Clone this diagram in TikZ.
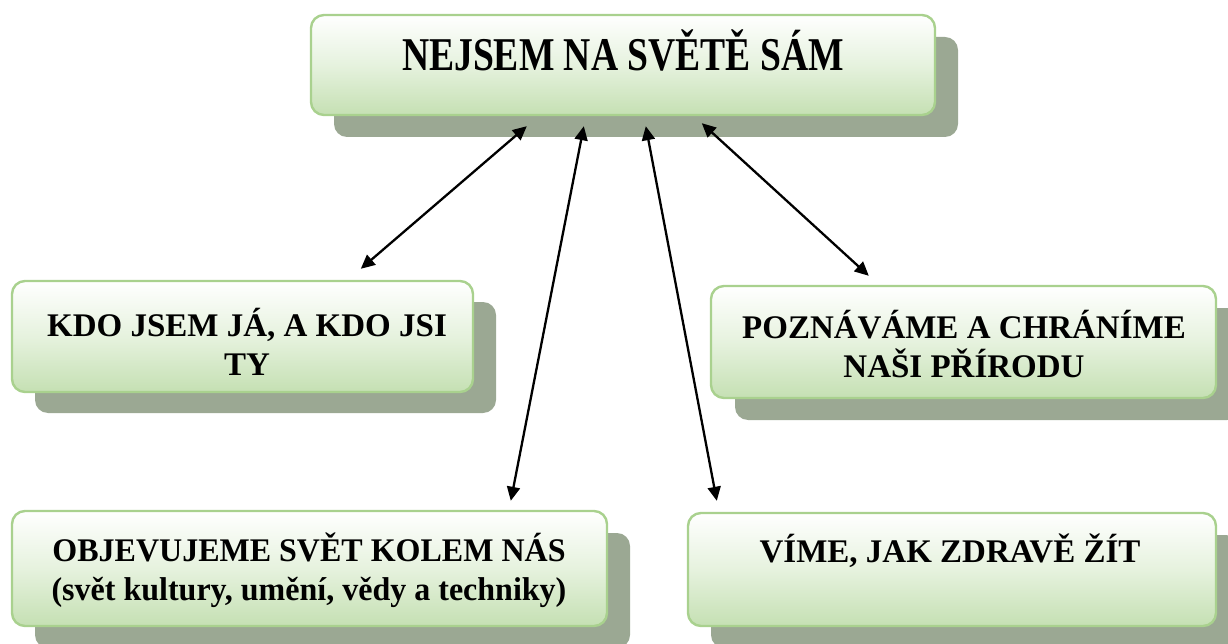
\documentclass[tikz,border=0pt]{standalone}
\usepackage{fontspec}
\setmainfont{Liberation Serif}
\usetikzlibrary{arrows.meta,calc}
\definecolor{boxedge}{HTML}{A9D18E}
\definecolor{boxbot}{HTML}{C5E0B3}
\definecolor{boxmid}{HTML}{E6F2DE}
\definecolor{shadowc}{HTML}{9BA893}
\tikzset{
  box/.style={draw=boxedge, line width=2.4pt, rounded corners=13pt,
    top color=white, bottom color=boxbot, middle color=boxmid, inner sep=0pt},
  shadowbox/.style={fill=shadowc, rounded corners=13pt, inner sep=0pt},
  lbl/.style={font=\bfseries\fontsize{33}{39}\selectfont, align=center, inner sep=0pt},
  toplbl/.style={font=\bfseries\fontsize{47}{50}\selectfont, align=center, inner sep=0pt},
  link/.style={{Triangle[length=14pt,width=13pt]}-{Triangle[length=14pt,width=13pt]}, line width=2.3pt, black},
}
\begin{document}
\begin{tikzpicture}[x=1pt,y=-1pt]
\useasboundingbox (0,0) rectangle (1228,644);
\clip (0,0) rectangle (1228,644);
% shadows
\node[shadowbox, minimum width=624pt, minimum height=100pt] (topS) at (646,87) {};
\node[shadowbox, minimum width=461pt, minimum height=111pt] (kdoS) at (265.5,357.5) {};
\node[shadowbox, minimum width=505pt, minimum height=112pt] (pozS) at (987.5,364) {};
\node[shadowbox, minimum width=595pt, minimum height=115pt] (objS) at (332.5,590.5) {};
\node[shadowbox, minimum width=528pt, minimum height=113pt] (vimeS) at (975,591.5) {};
% boxes
\node[box, minimum width=624pt, minimum height=100pt] (top) at (623,65) {};
\node[box, minimum width=461pt, minimum height=111pt] (kdo) at (242.5,336.5) {};
\node[box, minimum width=505pt, minimum height=112pt] (poz) at (963.5,342) {};
\node[box, minimum width=595pt, minimum height=115pt] (obj) at (309.5,568.5) {};
\node[box, minimum width=528pt, minimum height=113pt] (vime) at (952,569.5) {};
% texts
\node[toplbl] (ttop) at (623,50) {\scalebox{0.8}[1]{NEJSEM NA SVĚTĚ SÁM}};
\node[lbl] (tkdo) at (247,342) {KDO JSEM JÁ, A KDO JSI\\TY};
\node[lbl] (tpoz) at (964,344) {POZNÁVÁME A CHRÁNÍME\\NAŠI PŘÍRODU};
\node[lbl] (tobj) at (309,570) {\scalebox{0.97}[1]{OBJEVUJEME SVĚT KOLEM NÁS}\\\scalebox{0.97}[1]{(svět kultury, umění, vědy a techniky)}};
\node[lbl] (tvime) at (950,551) {VÍME, JAK ZDRAVĚ ŽÍT};
% arrow end points
\coordinate (a1t) at ($(top.south west)+(217,10)$);
\coordinate (a2t) at ($(top.south west)+(274,10)$);
\coordinate (a3t) at ($(top.south west)+(336,10)$);
\coordinate (a4t) at ($(top.south west)+(392,7)$);
\coordinate (a1b) at ($(kdo.north west)+(350,-11)$);
\coordinate (a2b) at ($(obj.north west)+(500,-9)$);
\coordinate (a3b) at ($(vime.north west)+(30,-11)$);
\coordinate (a4b) at ($(poz.north west)+(159,-9)$);
\draw[link] (a1t) -- (a1b);
\draw[link] (a2t) -- (a2b);
\draw[link] (a3t) -- (a3b);
\draw[link] (a4t) -- (a4b);
\end{tikzpicture}
\end{document}
